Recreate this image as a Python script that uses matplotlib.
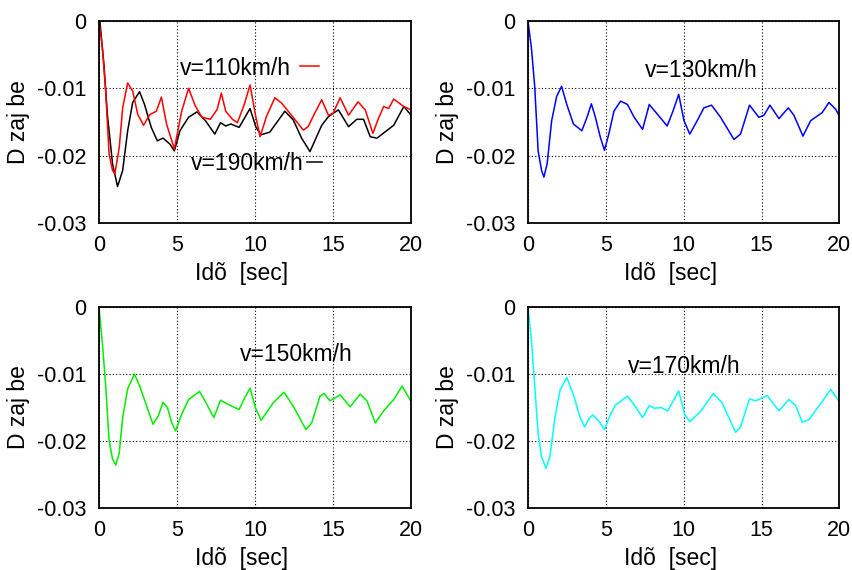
import numpy as np
import matplotlib
matplotlib.use('Agg')
import matplotlib.pyplot as plt

plt.rcParams['font.family'] = ['Liberation Sans', 'DejaVu Sans']
plt.rcParams['font.size'] = 15

# v=110 km/h (red)
t110 = [0, 0.22, 0.43, 0.65, 0.87, 1.02, 1.3, 1.52, 1.84, 2.16, 2.49, 2.86, 3.25, 3.68,
        4.0, 4.33, 4.83, 5.3, 5.74, 6.17, 6.6, 7.14, 7.58, 7.84, 8.12, 8.55, 8.87, 9.31,
        9.68, 10.02, 10.32, 10.73, 11.27, 11.7, 12.23, 13.09, 13.4, 13.8, 14.27, 14.7,
        15.0, 15.45, 15.99, 16.6, 17.06, 17.55, 17.9, 18.24, 18.56, 18.88, 19.53, 20]
v110 = [0, -0.004, -0.0104, -0.0198, -0.0222, -0.0227, -0.0188, -0.0129, -0.0092,
        -0.0104, -0.0139, -0.0155, -0.0139, -0.0134, -0.0113, -0.0153, -0.019, -0.0134,
        -0.010, -0.0126, -0.0143, -0.0146, -0.0131, -0.0107, -0.0134, -0.0146, -0.0151,
        -0.0124, -0.0095, -0.0139, -0.0172, -0.0142, -0.0114, -0.0122, -0.0137, -0.0162,
        -0.0157, -0.0138, -0.0117, -0.014, -0.0137, -0.0114, -0.014, -0.012, -0.0132,
        -0.0167, -0.0145, -0.0127, -0.013, -0.0116, -0.0127, -0.0132]

# v=190 km/h (black)
t190 = [0, 0.06, 0.32, 0.54, 0.87, 1.19, 1.52, 1.84, 2.16, 2.6, 2.92, 3.35, 3.74, 4.11,
        4.55, 4.83, 5.19, 5.74, 6.28, 6.82, 7.42, 7.79, 8.12, 8.44, 8.98, 9.68, 10.06,
        10.39, 10.95, 11.91, 12.45, 12.98, 13.52, 14.27, 14.7, 15.34, 15.99, 16.52, 16.95,
        17.38, 17.81, 18.88, 19.53, 20]
v190 = [0, 0, -0.0065, -0.0139, -0.0212, -0.0246, -0.0222, -0.0163, -0.0121, -0.0105,
        -0.0124, -0.0158, -0.0178, -0.0174, -0.0183, -0.0193, -0.0163, -0.0143, -0.0135,
        -0.0148, -0.0168, -0.0151, -0.0156, -0.0153, -0.0158, -0.013, -0.0158, -0.0169,
        -0.0165, -0.0134, -0.0147, -0.0174, -0.0194, -0.0155, -0.0142, -0.0132, -0.0157,
        -0.0146, -0.0146, -0.0172, -0.0174, -0.0155, -0.0127, -0.014]

# v=130 km/h (blue)
t130 = [0, 0.22, 0.43, 0.65, 0.87, 1.02, 1.23, 1.52, 1.84, 2.16, 2.49, 2.92, 3.46, 3.79,
        4.07, 4.33, 4.65, 4.91, 5.19, 5.52, 5.95, 6.39, 6.82, 7.36, 7.79, 8.33, 8.94, 9.31,
        9.68, 10.02, 10.39, 10.87, 11.3, 11.79, 12.37, 13.23, 13.65, 14.23, 14.83, 15.16,
        15.54, 16.12, 16.72, 17.08, 17.66, 18.16, 18.9, 19.33, 19.76, 20]
v130 = [0, -0.004, -0.0097, -0.0193, -0.0222, -0.0232, -0.0212, -0.0148, -0.0112,
        -0.0097, -0.0124, -0.0153, -0.0163, -0.0143, -0.0123, -0.0143, -0.0173, -0.0192,
        -0.0168, -0.0134, -0.0119, -0.0124, -0.0143, -0.0161, -0.0124, -0.0139, -0.0156,
        -0.0134, -0.0109, -0.0148, -0.0168, -0.0148, -0.0129, -0.0125, -0.0143, -0.0176,
        -0.0168, -0.0125, -0.0143, -0.014, -0.0125, -0.0145, -0.0129, -0.014, -0.0171,
        -0.0148, -0.0136, -0.0121, -0.0131, -0.0141]

# v=150 km/h (green)
t150 = [0, 0.22, 0.43, 0.65, 0.87, 1.08, 1.3, 1.52, 1.84, 2.27, 2.6, 3.03, 3.46, 3.79,
        4.11, 4.39, 4.65, 4.91, 5.3, 5.74, 6.45, 6.93, 7.36, 7.79, 8.33, 8.98, 9.37, 9.68,
        10.02, 10.39, 11.16, 11.85, 12.45, 13.26, 13.63, 14.16, 14.42, 14.8, 15.45, 16.09,
        16.74, 17.17, 17.7, 18.24, 18.88, 19.42, 20]
v150 = [0, -0.0054, -0.0117, -0.0199, -0.0227, -0.0236, -0.0218, -0.0165, -0.0122,
        -0.010, -0.0117, -0.0146, -0.0175, -0.0163, -0.0142, -0.015, -0.0172, -0.0185,
        -0.016, -0.0138, -0.0126, -0.0146, -0.0165, -0.0139, -0.0146, -0.0153, -0.0134,
        -0.0121, -0.015, -0.0169, -0.0143, -0.0127, -0.0148, -0.0183, -0.0173, -0.0133,
        -0.0129, -0.014, -0.0131, -0.0149, -0.013, -0.014, -0.0173, -0.0155, -0.0138,
        -0.0118, -0.0141]

# v=170 km/h (cyan)
t170 = [0, 0.22, 0.43, 0.65, 0.87, 1.15, 1.41, 1.73, 2.06, 2.49, 2.92, 3.35, 3.64, 3.9,
        4.16, 4.55, 4.91, 5.3, 5.63, 6.39, 6.82, 7.36, 7.79, 8.12, 8.55, 8.98, 9.68, 10.06,
        10.39, 11.08, 11.9, 12.47, 13.33, 13.65, 14.23, 14.62, 15.37, 16.12, 16.76, 17.19,
        17.62, 18.05, 18.9, 19.44, 20]
v170 = [0, -0.0049, -0.0117, -0.0189, -0.0223, -0.0241, -0.0223, -0.0165, -0.0124,
        -0.0105, -0.0131, -0.0165, -0.0179, -0.0167, -0.0161, -0.017, -0.0183, -0.016,
        -0.0146, -0.0133, -0.0146, -0.0165, -0.0147, -0.0151, -0.015, -0.0155, -0.0125,
        -0.016, -0.0171, -0.0156, -0.0129, -0.0143, -0.0187, -0.0179, -0.0137, -0.014,
        -0.0132, -0.0155, -0.0138, -0.0147, -0.0172, -0.0168, -0.0141, -0.0123, -0.0141]

xticks = [0, 5, 10, 15, 20]
yticks = [0, -0.01, -0.02, -0.03]
ytick_labels = ['0', '-0.01', '-0.02', '-0.03']


def setup(ax):
    ax.set_xlim(0, 20)
    ax.set_ylim(-0.03, 0)
    ax.set_xticks(xticks)
    ax.set_yticks(yticks)
    ax.set_yticklabels(ytick_labels)
    ax.tick_params(length=0, pad=9, labelsize=15.5)
    ax.grid(True, color='black', linestyle=(0, (1, 2)), linewidth=0.8)
    for s in ax.spines.values():
        s.set_linewidth(1.3)
    ax.set_xlabel('Idõ  [sec]', fontsize=16.5)
    ax.xaxis.set_label_coords(0.457, -0.195)
    ax.set_ylabel('D zaj be', fontsize=16.5, labelpad=5)


fig = plt.figure(figsize=(8.53, 5.70), dpi=100)

ax1 = fig.add_axes([0.116, 0.609, 0.366, 0.354])
ax2 = fig.add_axes([0.619, 0.609, 0.365, 0.354])
ax3 = fig.add_axes([0.116, 0.109, 0.366, 0.352])
ax4 = fig.add_axes([0.619, 0.109, 0.365, 0.352])

for ax in (ax1, ax2, ax3, ax4):
    setup(ax)

lw = 1.1
ax1.plot(t190, v190, color='black', linewidth=lw)
ax1.plot(t110, v110, color='red', linewidth=lw)
ax1.text(12.3, -0.0071, 'v=110km/h', ha='right', va='center', fontsize=16.5)
ax1.plot([12.9, 14.1], [-0.0067, -0.0067], color='red', linewidth=lw)
ax1.text(13.1, -0.0211, 'v=190km/h', ha='right', va='center', fontsize=16.5)
ax1.plot([13.3, 14.3], [-0.0209, -0.0209], color='black', linewidth=lw)

ax2.plot(t130, v130, color='blue', linewidth=lw)
ax2.text(7.5, -0.0073, 'v=130km/h', ha='left', va='center', fontsize=16.5)

ax3.plot(t150, v150, color='#00ee00', linewidth=lw)
ax3.text(9.0, -0.0071, 'v=150km/h', ha='left', va='center', fontsize=16.5)

ax4.plot(t170, v170, color='cyan', linewidth=lw)
ax4.text(6.4, -0.0089, 'v=170km/h', ha='left', va='center', fontsize=16.5)

fig.savefig('out.png', dpi=100)
